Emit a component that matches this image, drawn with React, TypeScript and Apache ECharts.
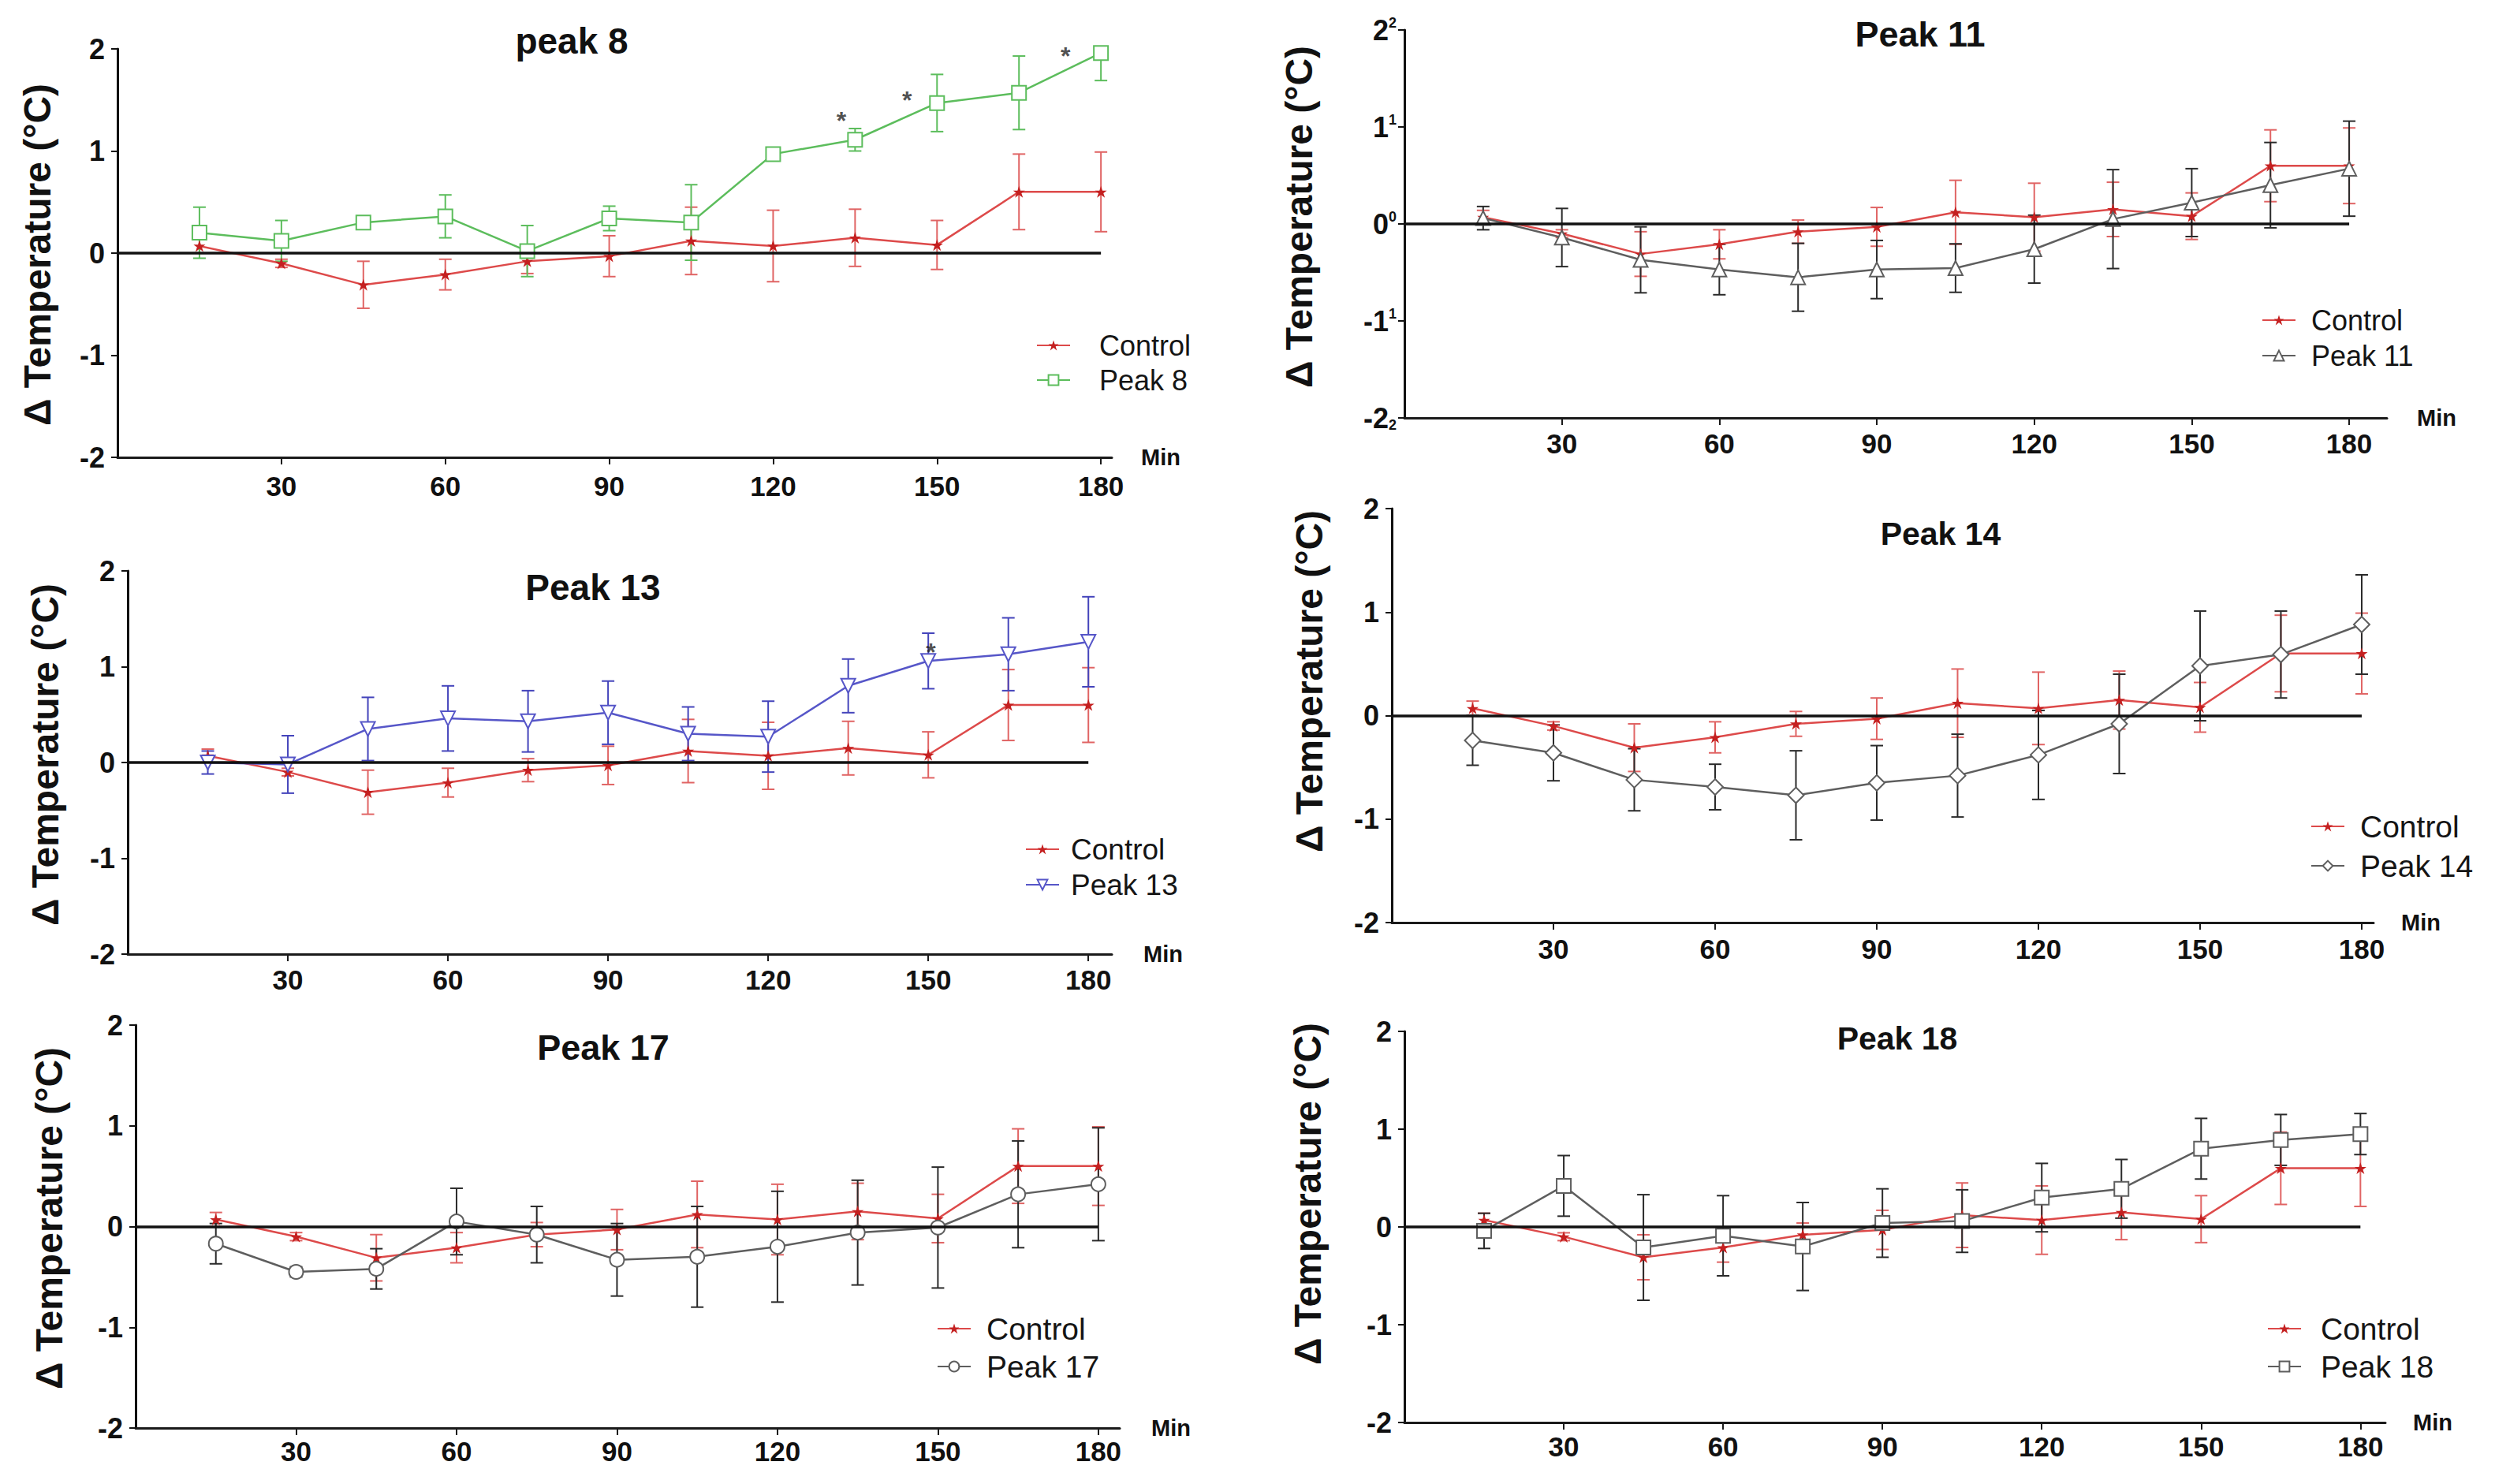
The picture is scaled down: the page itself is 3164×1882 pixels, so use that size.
import React, { useEffect, useRef } from 'react';
import * as echarts from 'echarts';

// ---------- data ----------
const TIME_MIN = [15, 30, 45, 60, 75, 90, 105, 120, 135, 150, 165, 180];
const X_TICKS = [30, 60, 90, 120, 150, 180];

const CONTROL = [0.07, -0.1, -0.31, -0.21, -0.08, -0.03, 0.12, 0.07, 0.15, 0.08, 0.6, 0.6];
const CONTROL_SEM = [0.07, 0.04, 0.23, 0.15, 0.12, 0.2, 0.33, 0.35, 0.28, 0.24, 0.37, 0.39];

const PEAK_8 = [0.2, 0.12, 0.3, 0.36, 0.02, 0.34, 0.3, 0.97, 1.11, 1.47, 1.57, 1.96];
const PEAK_8_SEM = [0.25, 0.2, 0.03, 0.21, 0.25, 0.12, 0.37, 0.02, 0.11, 0.28, 0.36, 0.27];

const PEAK_11 = [0.06, -0.14, -0.37, -0.47, -0.55, -0.47, -0.455, -0.26, 0.05, 0.22, 0.4, 0.57];
const PEAK_11_SEM = [0.12, 0.3, 0.34, 0.26, 0.35, 0.3, 0.25, 0.35, 0.51, 0.35, 0.44, 0.49];

const PEAK_13 = [0.0, -0.02, 0.35, 0.46, 0.43, 0.52, 0.3, 0.27, 0.8, 1.06, 1.13, 1.26];
const PEAK_13_SEM = [0.12, 0.3, 0.33, 0.34, 0.32, 0.33, 0.28, 0.37, 0.28, 0.29, 0.38, 0.47];

const PEAK_14 = [-0.24, -0.36, -0.62, -0.69, -0.77, -0.65, -0.58, -0.38, -0.08, 0.48, 0.59, 0.88];
const PEAK_14_SEM = [0.24, 0.27, 0.3, 0.22, 0.43, 0.36, 0.4, 0.43, 0.48, 0.53, 0.42, 0.48];

const PEAK_17 = [-0.17, -0.45, -0.42, 0.05, -0.08, -0.33, -0.3, -0.2, -0.06, -0.01, 0.32, 0.42];
const PEAK_17_SEM = [0.2, 0.05, 0.2, 0.33, 0.28, 0.36, 0.5, 0.55, 0.52, 0.6, 0.53, 0.56];

const PEAK_18 = [-0.04, 0.42, -0.21, -0.09, -0.2, 0.04, 0.06, 0.3, 0.39, 0.8, 0.89, 0.95];
const PEAK_18_SEM = [0.18, 0.31, 0.54, 0.41, 0.45, 0.35, 0.32, 0.35, 0.3, 0.31, 0.26, 0.21];

const STARS_PEAK_8 = [[132.5, 1.3], [144.5, 1.5], [173.5, 1.93]];
const STARS_PEAK_13 = [[150.5, 1.15]];

const PANEL_TITLES = ['peak 8', 'Peak 11', 'Peak 13', 'Peak 14', 'Peak 17', 'Peak 18'];
const SERIES_NAMES = ['Peak 8', 'Peak 11', 'Peak 13', 'Peak 14', 'Peak 17', 'Peak 18'];
const CONTROL_NAME = 'Control';
const Y_AXIS_TITLE = 'Δ Temperature (°C)';
const X_AXIS_TITLE = 'Min';

// ---------- styles / layout ----------
const FONT = "'Liberation Sans', Arial, Helvetica, sans-serif";
const STAR_PATH = 'path://M12,0L15,9H24L17,14L20,23L12,17L4,23L7,14L0,9H9Z';

const PANELS = [
  { values: PEAK_8, sem: PEAK_8_SEM, stars: STARS_PEAK_8, color: '#5cbd5c', errColor: '#5cbd5c', symbol: 'emptyRect', symbolSize: 18, rotate: 0, sup: false },
  { values: PEAK_11, sem: PEAK_11_SEM, stars: null, color: '#5e5e5e', errColor: '#2a2a2a', symbol: 'emptyTriangle', symbolSize: 18, rotate: 0, sup: true },
  { values: PEAK_13, sem: PEAK_13_SEM, stars: STARS_PEAK_13, color: '#5656c8', errColor: '#4444bb', symbol: 'emptyTriangle', symbolSize: 18, rotate: 180, sup: false },
  { values: PEAK_14, sem: PEAK_14_SEM, stars: null, color: '#5e5e5e', errColor: '#2a2a2a', symbol: 'emptyDiamond', symbolSize: 20, rotate: 0, sup: false },
  { values: PEAK_17, sem: PEAK_17_SEM, stars: null, color: '#5e5e5e', errColor: '#2a2a2a', symbol: 'emptyCircle', symbolSize: 18, rotate: 0, sup: false },
  { values: PEAK_18, sem: PEAK_18_SEM, stars: null, color: '#5e5e5e', errColor: '#2a2a2a', symbol: 'emptyRect', symbolSize: 18, rotate: 0, sup: false },
];

const LAYOUT = [
  { left: 149, top: 62, width: 1261, height: 518, xMax: 182, titleX: 725, titleY: 52, titleSize: 46, nameX: 47, nameY: 323, legLeft: 1314, ctrlY: 438, rowGap: 44, textGap: 37, legFont: 36, minGap: 37, minDy: 20, xMargin: 19 },
  { left: 1781, top: 38, width: 1246, height: 492, xMax: 187.2, titleX: 2435, titleY: 43, titleSize: 45, nameX: 1647, nameY: 275, legLeft: 2868, ctrlY: 406, rowGap: 45, textGap: 20, legFont: 36, minGap: 38, minDy: 15, xMargin: 15 },
  { left: 162, top: 724, width: 1248, height: 486, xMax: 184.4, titleX: 752, titleY: 745, titleSize: 46, nameX: 57, nameY: 957, legLeft: 1300, ctrlY: 1077, rowGap: 45, textGap: 15, legFont: 37, minGap: 40, minDy: 17, xMargin: 15 },
  { left: 1765, top: 645, width: 1245, height: 525, xMax: 182.2, titleX: 2461, titleY: 677, titleSize: 41, nameX: 1660, nameY: 864, legLeft: 2930, ctrlY: 1048, rowGap: 50, textGap: 20, legFont: 39, minGap: 35, minDy: 18, xMargin: 16 },
  { left: 172, top: 1300, width: 1248, height: 511, xMax: 184, titleX: 765, titleY: 1328, titleSize: 45, nameX: 62, nameY: 1545, legLeft: 1188, ctrlY: 1685, rowGap: 48, textGap: 20, legFont: 39, minGap: 40, minDy: 12, xMargin: 12 },
  { left: 1781, top: 1308, width: 1244, height: 496, xMax: 184.7, titleX: 2406, titleY: 1317, titleSize: 41, nameX: 1658, nameY: 1514, legLeft: 2875, ctrlY: 1685, rowGap: 48, textGap: 25, legFont: 39, minGap: 35, minDy: 13, xMargin: 13 },
];

const CTRL_LINE = '#dd4a4a';
const CTRL_MARK = '#c42020';
const CTRL_ERR = '#e06464';

function errorBars(idx: number, name: string, values: number[], sem: number[], color: string) {
  return {
    type: 'custom',
    name,
    xAxisIndex: idx,
    yAxisIndex: idx,
    silent: true,
    clip: true,
    z: 2,
    encode: { x: 0, y: 1 },
    data: TIME_MIN.map((t, k) => [t, values[k], sem[k]]),
    renderItem: (params: any, api: any) => {
      const x = api.value(0);
      const y = api.value(1);
      const e = api.value(2);
      const top = api.coord([x, y + e]);
      const bot = api.coord([x, y - e]);
      const cap = 8;
      const st = { stroke: color, lineWidth: 2 };
      return {
        type: 'group',
        children: [
          { type: 'line', shape: { x1: top[0], y1: top[1], x2: bot[0], y2: bot[1] }, style: st },
          { type: 'line', shape: { x1: top[0] - cap, y1: top[1], x2: top[0] + cap, y2: top[1] }, style: st },
          { type: 'line', shape: { x1: bot[0] - cap, y1: bot[1], x2: bot[0] + cap, y2: bot[1] }, style: st },
        ],
      };
    },
  };
}

function buildOption() {
  const grid: any[] = [];
  const xAxis: any[] = [];
  const yAxis: any[] = [];
  const legend: any[] = [];
  const series: any[] = [];
  const graphic: any[] = [];

  PANELS.forEach((p, i) => {
    const L = LAYOUT[i];
    grid.push({ left: L.left, top: L.top, width: L.width, height: L.height, containLabel: false, outerBoundsMode: 'none' });
    xAxis.push({
      type: 'value',
      gridIndex: i,
      min: 0,
      max: L.xMax,
      interval: 30,
      name: X_AXIS_TITLE,
      nameLocation: 'end',
      nameGap: L.minGap,
      nameTextStyle: { fontFamily: FONT, fontWeight: 'bold', fontSize: 29, color: '#111', padding: [L.minDy * 2, 0, 0, 0] },
      splitLine: { show: false },
      axisLine: { show: true, onZero: false, lineStyle: { color: '#1a1a1a', width: 3 } },
      axisTick: { show: true, length: 9, lineStyle: { color: '#1a1a1a', width: 2 }, customValues: X_TICKS },
      axisLabel: { show: true, customValues: X_TICKS, margin: L.xMargin, fontFamily: FONT, fontWeight: 'bold', fontSize: 35, color: '#111' },
    });
    const yLabel: any = { margin: 16, fontFamily: FONT, fontWeight: 'bold', fontSize: 36, color: '#111' };
    if (p.sup) {
      yLabel.margin = 10;
      yLabel.formatter = (v: number) => `{m|${v}}{${v < -1.5 ? 'b' : 't'}|${Math.abs(v)}}`;
      yLabel.rich = {
        m: { fontFamily: FONT, fontWeight: 'bold', fontSize: 36, color: '#111' },
        t: { fontFamily: FONT, fontWeight: 'bold', fontSize: 18, color: '#111', verticalAlign: 'top' },
        b: { fontFamily: FONT, fontWeight: 'bold', fontSize: 18, color: '#111', verticalAlign: 'bottom' },
      };
    }
    yAxis.push({
      type: 'value',
      gridIndex: i,
      min: -2,
      max: 2,
      interval: 1,
      splitLine: { show: false },
      axisLine: { show: true, onZero: false, lineStyle: { color: '#111', width: 3 } },
      axisTick: { show: true, length: 8, lineStyle: { color: '#111', width: 2 } },
      axisLabel: yLabel,
    });
    legend.push({
      orient: 'vertical',
      left: L.legLeft,
      top: L.ctrlY - L.legFont / 2,
      padding: 0,
      itemGap: L.rowGap - L.legFont,
      itemWidth: 42,
      itemHeight: 16,
      selectedMode: false,
      data: [CONTROL_NAME, SERIES_NAMES[i]],
      textStyle: { fontFamily: FONT, fontSize: L.legFont, color: '#151515', padding: [0, 0, 0, Math.max(0, L.textGap - 5)] },
    });

    // error bars
    series.push(errorBars(i, `${CONTROL_NAME} SEM ${i}`, CONTROL, CONTROL_SEM, CTRL_ERR));
    series.push(errorBars(i, `${SERIES_NAMES[i]} SEM`, p.values, p.sem, p.errColor));

    // control line + zero reference line
    series.push({
      type: 'line',
      name: CONTROL_NAME,
      xAxisIndex: i,
      yAxisIndex: i,
      z: 3,
      data: TIME_MIN.map((t, k) => [t, CONTROL[k]]),
      symbol: STAR_PATH,
      symbolSize: 15,
      lineStyle: { color: CTRL_LINE, width: 2.5 },
      itemStyle: { color: CTRL_MARK },
      markLine: {
        silent: true,
        symbol: ['none', 'none'],
        label: { show: false },
        lineStyle: { color: '#111', width: 3.5, type: 'solid' },
        data: [[{ coord: [0, 0] }, { coord: [180, 0] }]],
      },
    });

    // peak line
    series.push({
      type: 'line',
      name: SERIES_NAMES[i],
      xAxisIndex: i,
      yAxisIndex: i,
      z: 4,
      data: TIME_MIN.map((t, k) => [t, p.values[k]]),
      symbol: p.symbol,
      symbolSize: p.symbolSize,
      symbolRotate: p.rotate,
      lineStyle: { color: p.color, width: 2.5 },
      itemStyle: { color: p.color, borderWidth: 2 },
    });

    if (p.stars) {
      series.push({
        type: 'scatter',
        name: `${SERIES_NAMES[i]} significance`,
        xAxisIndex: i,
        yAxisIndex: i,
        z: 5,
        silent: true,
        data: p.stars,
        symbolSize: 1,
        itemStyle: { color: 'rgba(0,0,0,0)' },
        label: { show: true, formatter: '*', position: 'inside', fontFamily: FONT, fontWeight: 'bold', fontSize: 32, color: '#222' },
      });
    }

    graphic.push({
      type: 'text',
      x: L.titleX,
      y: L.titleY,
      silent: true,
      style: { text: PANEL_TITLES[i], fontFamily: FONT, fontWeight: 'bold', fontSize: L.titleSize, fill: '#111', align: 'center', verticalAlign: 'middle' },
    });
    graphic.push({
      type: 'text',
      x: L.nameX,
      y: L.nameY,
      rotation: Math.PI / 2,
      silent: true,
      style: { text: Y_AXIS_TITLE, fontFamily: FONT, fontWeight: 'bold', fontSize: 48, fill: '#111', align: 'center', verticalAlign: 'middle' },
    });
  });

  return {
    animation: false,
    backgroundColor: '#ffffff',
    textStyle: { fontFamily: FONT },
    grid,
    xAxis,
    yAxis,
    legend,
    series,
    graphic,
  };
}

export default function App() {
  const ref = useRef<HTMLDivElement | null>(null);
  useEffect(() => {
    if (!ref.current) return;
    const chart = echarts.init(ref.current, undefined, { renderer: 'svg' });
    chart.setOption(buildOption() as any);
    return () => chart.dispose();
  }, []);
  return (
    <div
      ref={ref}
      style={{ position: 'fixed', left: 0, top: 0, width: 3164, height: 1882, background: '#fff' }}
    />
  );
}
